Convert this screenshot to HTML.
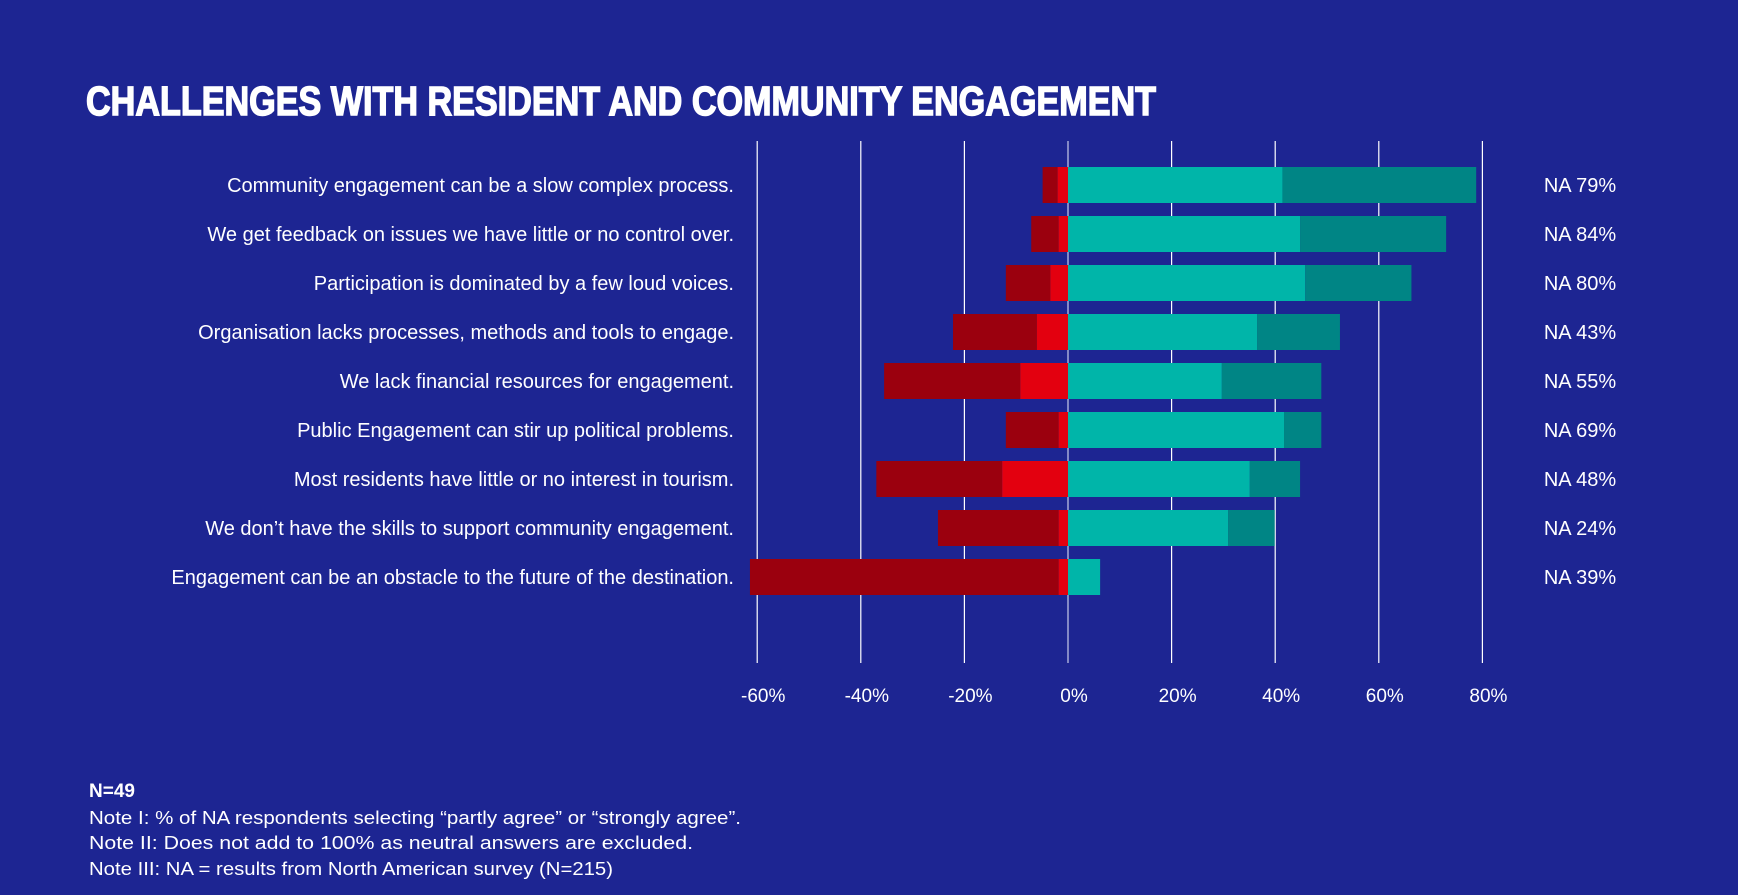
<!DOCTYPE html>
<html><head><meta charset="utf-8"><style>
html,body{margin:0;padding:0;background:#1d2592;}
svg{display:block;}
</style></head><body>
<svg id="chart" width="1738" height="895" viewBox="0 0 1738 895" xmlns="http://www.w3.org/2000/svg">
<rect width="1738" height="895" fill="#1d2592"/>
<text x="86" y="115" fill="#ffffff" stroke="#ffffff" stroke-width="1.5" font-family="Liberation Sans, sans-serif" font-weight="bold" font-size="41" textLength="1070" lengthAdjust="spacingAndGlyphs">CHALLENGES WITH RESIDENT AND COMMUNITY ENGAGEMENT</text>
<g id="grid"></g>
<g id="bars"></g>
<g id="labels"></g>
<g font-family="Liberation Sans, sans-serif" fill="#ffffff">
<text x="89" y="797" font-size="19" font-weight="bold">N=49</text>
<text x="89" y="824" font-size="18" textLength="652" lengthAdjust="spacingAndGlyphs">Note I: % of NA respondents selecting “partly agree” or “strongly agree”.</text>
<text x="89" y="849" font-size="18" textLength="604" lengthAdjust="spacingAndGlyphs">Note II: Does not add to 100% as neutral answers are excluded.</text>
<text x="89" y="875" font-size="18" textLength="524" lengthAdjust="spacingAndGlyphs">Note III: NA = results from North American survey (N=215)</text>
</g>
</svg>
<script>
const categories = [
"Community engagement can be a slow complex process.",
"We get feedback on issues we have little or no control over.",
"Participation is dominated by a few loud voices.",
"Organisation lacks processes, methods and tools to engage.",
"We lack financial resources for engagement.",
"Public Engagement can stir up political problems.",
"Most residents have little or no interest in tourism.",
"We don\u2019t have the skills to support community engagement.",
"Engagement can be an obstacle  to the future of the destination."
];
const partlyDisagree = [2.0, 1.8, 3.4, 6.0, 9.2, 1.8, 12.7, 1.8, 1.8];
const stronglyDisagree = [2.9, 5.3, 8.6, 16.2, 26.3, 10.2, 24.3, 23.3, 59.6];
const partlyAgree = [41.4, 44.8, 45.8, 36.5, 29.7, 41.7, 35.1, 30.9, 6.2];
const stronglyAgree = [37.4, 28.2, 20.5, 16.0, 19.2, 7.2, 9.7, 9.0, 0];
const naLabels = ["NA 79%","NA 84%","NA 80%","NA 43%","NA 55%","NA 69%","NA 48%","NA 24%","NA 39%"];
const ticks = [-60,-40,-20,0,20,40,60,80];
const tickLabels = ["-60%","-40%","-20%","0%","20%","40%","60%","80%"];

const NS = "http://www.w3.org/2000/svg";
const x0 = 1068, pxPer = 103.6/20;
function xs(v){ return x0 + v*pxPer; }
function ys(i){ return 167 + i*49; }
const barH = 36;
function mk(tag, attrs, parent){
  const e = document.createElementNS(NS, tag);
  for (const k in attrs) e.setAttribute(k, attrs[k]);
  parent.appendChild(e);
  return e;
}
const grid = document.getElementById('grid');
const bars = document.getElementById('bars');
const labels = document.getElementById('labels');
ticks.forEach((t,i)=>{
  const l = mk('line',{x1:xs(t),x2:xs(t),y1:141,y2:663,stroke: t===0?'#c8cbe8':'#ffffff','stroke-width':1.2},grid);
  
  
  const tx = mk('text',{x:xs(t)+6,y:702,'text-anchor':'middle',fill:'#ffffff','font-family':'Liberation Sans, sans-serif','font-size':19},grid);
  tx.textContent = tickLabels[i];
  
  
});
categories.forEach((c,i)=>{
  const y = ys(i);
  const pd = partlyDisagree[i], sd = stronglyDisagree[i], pa = partlyAgree[i], sa = stronglyAgree[i];
  const r1 = mk('rect',{x:xs(-pd-sd),y:y,width:sd*pxPer,height:barH,fill:'#9b000e'},bars);
  
  
  const r2 = mk('rect',{x:xs(-pd),y:y,width:pd*pxPer,height:barH,fill:'#e3000f'},bars);
  
  
  const r3 = mk('rect',{x:xs(0),y:y,width:pa*pxPer,height:barH,fill:'#00b5a9'},bars);
  
  
  const r4 = mk('rect',{x:xs(pa),y:y,width:sa*pxPer,height:barH,fill:'#008585'},bars);
  
  
  const t = mk('text',{x:734,y:y+25,'text-anchor':'end',fill:'#ffffff','font-family':'Liberation Sans, sans-serif','font-size':20},labels);
  t.textContent = c;
  
  
  const n = mk('text',{x:1580,y:y+25,'text-anchor':'middle',fill:'#ffffff','font-family':'Liberation Sans, sans-serif','font-size':20},labels);
  n.textContent = naLabels[i];
  
  
});
</script>
</body></html>
